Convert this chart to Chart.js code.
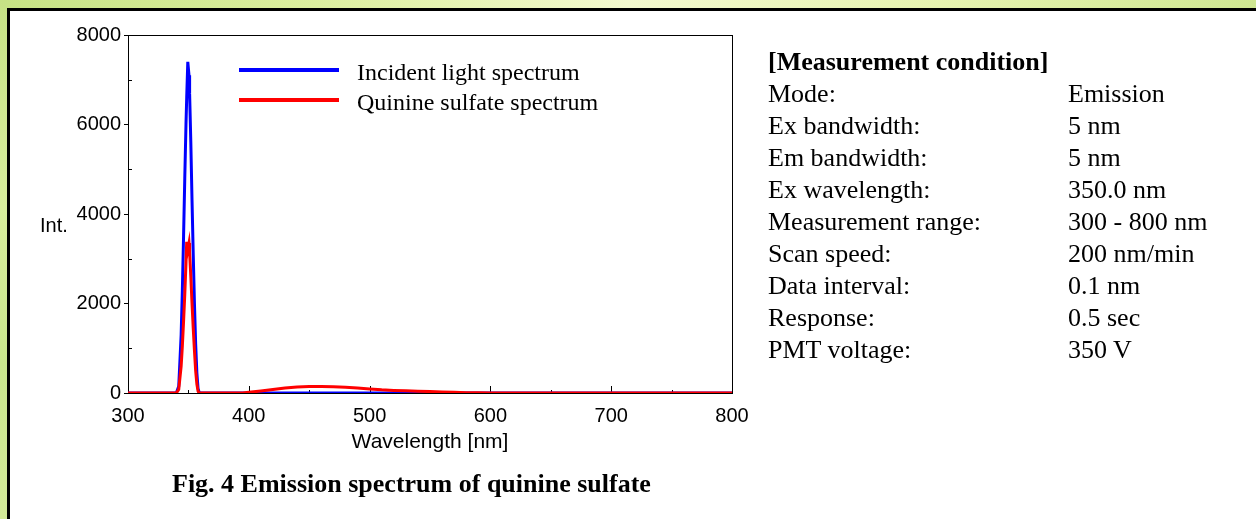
<!DOCTYPE html>
<html>
<head>
<meta charset="utf-8">
<title>Emission spectrum of quinine sulfate</title>
<script src="https://cdn.jsdelivr.net/npm/chart.js@4.4.1/dist/chart.umd.min.js"></script>
<style>
    html, body {
        margin: 0;
        padding: 0;
        overflow: hidden;
        background: #fff;
    }
    #bgTop {
        position: fixed;
        left: 0;
        top: 0;
        right: 0;
        height: 8px;
        background: linear-gradient(90deg, #c6e285 0%, #dcef9f 25%, #f3f9cf 50%, #e6f3b0 75%, #cfe792 100%);
    }
    #bgLeft {
        position: fixed;
        left: 0;
        top: 0;
        bottom: 0;
        width: 7px;
        background: linear-gradient(180deg, #c6e285 0%, #d8ee9c 40%, #c9e68c 70%, #d3ea98 100%);
    }
    #frame {
        position: fixed;
        left: 7px;
        top: 8px;
        right: 0;
        bottom: 0;
        border-left: 3px solid #000;
        border-top: 3px solid #000;
        background: #fff;
    }
    #spectrum {
        position: absolute;
        left: 0;
        top: 0;
    }
    .serif {
        font-family: "Liberation Serif", "Times New Roman", serif;
        font-size: 26px;
        line-height: 32px;
        color: #000;
    }
    #conditions {
        position: absolute;
        left: 768px;
        top: 46px;
    }
    #conditions .row {
        display: flex;
        white-space: nowrap;
    }
    #conditions .label {
        width: 300px;
    }
    #conditions .head {
        font-weight: bold;
    }
    #caption {
        position: absolute;
        left: 172px;
        top: 468px;
        font-weight: bold;
        white-space: nowrap;
    }
</style>
</head>
<body>
<div id="bgTop"></div>
<div id="bgLeft"></div>
<div id="frame"></div>
<canvas id="spectrum" width="760" height="455" style="width:760px;height:455px;"></canvas>
<div id="conditions" class="serif"></div>
<div id="caption" class="serif">Fig. 4 Emission spectrum of quinine sulfate</div>

<script>
// --- data (wavelength in nm, intensity in counts) ---
const wavelengths = [
    300, 340, 342, 344, 345, 346, 347, 348, 348.6, 349.5,
    350.5, 351, 352, 353, 354, 355, 356, 357, 358, 359,
    395, 400, 410, 420, 430, 440, 450, 460, 470, 480,
    490, 500, 510, 520, 530, 540, 550, 560, 570, 580,
    590, 600, 700, 800
];
const incidentLight = [
    0, 0, 150, 1300, 2300, 3500, 4800, 6000, 6600, 7400,
    7100, 6700, 5600, 4300, 3100, 2000, 1100, 450, 100, 0,
    0, 0, 0, 0, 0, 0, 0, 0, 0, 0,
    0, 0, 0, 0, 0, 0, 0, 0, 0, 0,
    0, 0, 0, 0
];
const quinineSulfate = [
    0, 0, 80, 600, 1050, 1600, 2200, 2900, 3380, 3200,
    3350, 3150, 2600, 2000, 1450, 950, 500, 200, 40, 0,
    0, 15, 45, 80, 110, 135, 145, 148, 142, 130,
    112, 92, 72, 58, 48, 40, 32, 22, 14, 8,
    3, 0, 0, 0
];

const seriesLabels = ['Incident light spectrum', 'Quinine sulfate spectrum'];
const seriesColors = ['#0000ff', '#ff0000'];

const xTicks = [300, 400, 500, 600, 700, 800];
const yTicks = [0, 2000, 4000, 6000, 8000];

const conditionLabels = ['Mode:', 'Ex bandwidth:', 'Em bandwidth:', 'Ex wavelength:', 'Measurement range:', 'Scan speed:', 'Data interval:', 'Response:', 'PMT voltage:'];
const conditionValues = ['Emission', '5 nm', '5 nm', '350.0 nm', '300 - 800 nm', '200 nm/min', '0.1 nm', '0.5 sec', '350 V'];

// --- measurement condition block ---
const cond = document.getElementById('conditions');
cond.innerHTML = '<div class="row head">[Measurement condition]</div>' +
    conditionLabels.map((l, i) =>
        `<div class="row"><span class="label">${l}</span><span>${conditionValues[i]}</span></div>`
    ).join('');

const SANS = 'Arial, "Liberation Sans", sans-serif';
const SERIF = '"Liberation Serif", "Times New Roman", serif';

// box round the plot, inward ticks on x, minor inward ticks on y
const axisFrame = {
    id: 'axisFrame',
    beforeDatasetsDraw(chart) {
        const { ctx, chartArea: a, scales: { x, y } } = chart;
        ctx.save();
        ctx.strokeStyle = '#000';
        ctx.lineWidth = 1;
        ctx.strokeRect(Math.round(a.left) + 0.5, Math.round(a.top) + 0.5,
            Math.round(a.right - a.left), Math.round(a.bottom - a.top));
        ctx.beginPath();
        for (let v = x.min; v <= x.max; v += 50) {
            const px = Math.round(x.getPixelForValue(v)) + 0.5;
            const len = v % 100 === 0 ? 7 : 3;
            ctx.moveTo(px, Math.round(a.bottom));
            ctx.lineTo(px, Math.round(a.bottom) - len);
        }
        for (let v = 1000; v < y.max; v += 2000) {
            const py = Math.round(y.getPixelForValue(v)) + 0.5;
            ctx.moveTo(Math.round(a.left), py);
            ctx.lineTo(Math.round(a.left) + 4, py);
        }
        ctx.stroke();
        ctx.restore();
    },
    afterDraw(chart) {
        const { ctx, chartArea: a } = chart;
        ctx.save();
        ctx.fillStyle = '#000';
        ctx.font = '20px ' + SANS;
        ctx.textBaseline = 'middle';
        ctx.textAlign = 'left';
        ctx.fillText('Int.', 40, 226);

        // legend inside the plot
        chart.data.datasets.forEach((ds, i) => {
            const ly = a.top + 35 + i * 30;
            ctx.strokeStyle = ds.borderColor;
            ctx.lineWidth = 4;
            ctx.beginPath();
            ctx.moveTo(a.left + 111, ly);
            ctx.lineTo(a.left + 211, ly);
            ctx.stroke();
            ctx.font = '24px ' + SERIF;
            ctx.textBaseline = 'alphabetic';
            ctx.fillText(ds.label, a.left + 229, ly + 10);
        });
        ctx.restore();
    }
};

const ctx = document.getElementById('spectrum').getContext('2d');
new Chart(ctx, {
    type: 'line',
    data: {
        datasets: [
            {
                label: seriesLabels[0],
                data: wavelengths.map((w, i) => ({ x: w, y: incidentLight[i] })),
                borderColor: seriesColors[0],
                borderWidth: 3,
                pointRadius: 0,
                tension: 0,
                order: 1
            },
            {
                label: seriesLabels[1],
                data: wavelengths.map((w, i) => ({ x: w, y: quinineSulfate[i] })),
                borderColor: seriesColors[1],
                borderWidth: 3,
                pointRadius: 0,
                tension: 0,
                order: 0
            }
        ]
    },
    options: {
        responsive: false,
        animation: false,
        devicePixelRatio: 1,
        layout: { padding: { left: 0, top: 35, right: 28, bottom: 0 } },
        font: { family: SANS },
        scales: {
            x: {
                type: 'linear',
                min: 300,
                max: 800,
                afterBuildTicks(scale) {
                    scale.ticks = xTicks.map(v => ({ value: v }));
                },
                ticks: {
                    color: '#000', padding: 11, maxRotation: 0,
                    font: { size: 20, family: SANS },
                    callback: v => String(v)
                },
                grid: { display: false, drawTicks: false },
                border: { display: false },
                title: {
                    display: true,
                    text: 'Wavelength [nm]',
                    color: '#000',
                    padding: 0,
                    font: { size: 21, family: SANS }
                },
                afterFit(scale) { scale.height = 62; }
            },
            y: {
                min: 0,
                max: 8000,
                afterBuildTicks(scale) {
                    scale.ticks = yTicks.map(v => ({ value: v }));
                },
                ticks: {
                    color: '#000', padding: 3,
                    font: { size: 20, family: SANS },
                    callback: v => String(v)
                },
                grid: { drawOnChartArea: false, color: '#000', tickLength: 4 },
                border: { display: false },
                afterFit(scale) { scale.width = 128; }
            }
        },
        plugins: {
            legend: { display: false },
            tooltip: { enabled: false }
        }
    },
    plugins: [axisFrame]
});
</script>
</body>
</html>
